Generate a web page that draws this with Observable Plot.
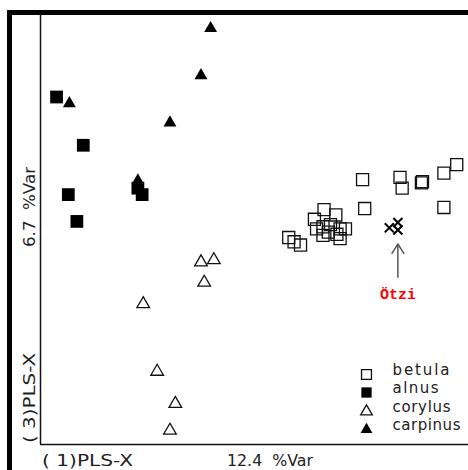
<!DOCTYPE html>
<html><head><meta charset="utf-8">
<script src="https://cdn.jsdelivr.net/npm/d3@7"></script>
<script src="https://cdn.jsdelivr.net/npm/@observablehq/plot@0.6"></script>
<style>body{margin:0;background:#fff}</style>
</head><body><div id="chart"></div>
<script>
// PLS-X component scores (component 1 on x, component 3 on y)
const species = ["betula", "alnus", "corylus", "carpinus"];
const betulaX = [0.32,0.37,0.43,0.56,0.65,0.76,0.58,0.64,0.71,0.80,0.85,0.64,0.77,0.80,0.69,1.01,1.03,1.36,1.38,1.56,1.57,1.77,1.89,1.77];
const betulaY = [-0.07,-0.11,-0.14,0.10,0.19,0.14,0.01,0.03,0.05,0.01,0.01,-0.05,-0.04,-0.08,-0.02,0.47,0.20,0.49,0.39,0.44,0.45,0.53,0.61,0.21];
const alnusX = [-1.85,-1.60,-1.74,-1.66,-1.09,-1.05];
const alnusY = [1.24,0.79,0.33,0.08,0.39,0.33];
const corylusX = [-0.50,-0.38,-0.47,-1.04,-0.91,-0.74,-0.79];
const corylusY = [-0.30,-0.28,-0.49,-0.69,-1.32,-1.62,-1.87];
const carpinusX = [-0.41,-0.50,-1.73,-0.79,-1.09];
const carpinusY = [1.88,1.44,1.18,1.00,0.46];
const otziX = [1.26,1.34,1.34];
const otziY = [0.02,0.07,0.00];
const otziLabel = ["Ötzi"];
const otziLabelPos = [1.34, -0.60];
const otziArrow = [1.34, -0.44, -0.13]; // x, y from, y to
const xLabel = ["( 1)PLS-X", "12.4  %Var"];
const yLabel = ["( 3)PLS-X", "6.7  %Var"];

const rows = (xs, ys) => xs.map((x, i) => ({x, y: ys[i]}));
const betula = rows(betulaX, betulaY);
const alnus = rows(alnusX, alnusY);
const corylus = rows(corylusX, corylusY);
const carpinus = rows(carpinusX, carpinusY);
const otzi = rows(otziX, otziY);

const legendStyle = {
  betula:   {symbol: "square",   r: 5.6, fill: "none", stroke: "#111", strokeWidth: 1.3},
  alnus:    {symbol: "square",   r: 5.8, fill: "#000", stroke: "none"},
  corylus:  {symbol: "triangle", r: 4.3, fill: "none", stroke: "#111", strokeWidth: 1.3},
  carpinus: {symbol: "triangle", r: 4.4, fill: "#000", stroke: "none"}
};
const legendDy = [-70, -52, -33, -15];

const xDomain = [-2, 2], yDomain = [-2, 2];
const svg = Plot.plot({
  width: 468, height: 470,
  marginLeft: 40, marginTop: 15, marginRight: 0, marginBottom: 26,
  x: {domain: xDomain, axis: null},
  y: {domain: yDomain, axis: null},
  style: {background: "white", overflow: "visible", fontFamily: "DejaVu Sans"},
  marks: [
    Plot.ruleX([xDomain[0]], {stroke: "#111", strokeWidth: 1.5}),
    Plot.ruleY([yDomain[0]], {stroke: "#111", strokeWidth: 1.5}),
    Plot.dot(betula, {x: "x", y: "y", symbol: "square", r: 6.8, fill: "none", stroke: "#111", strokeWidth: 1.3}),
    Plot.dot(alnus, {x: "x", y: "y", symbol: "square", r: 7.2, fill: "#000"}),
    Plot.dot(corylus, {x: "x", y: "y", symbol: "triangle", r: 4.7, fill: "none", stroke: "#111", strokeWidth: 1.3}),
    Plot.dot(carpinus, {x: "x", y: "y", symbol: "triangle", r: 4.8, fill: "#000"}),
    Plot.dot(otzi, {x: "x", y: "y", symbol: "times", r: 4.2, stroke: "#000", strokeWidth: 2}),
    Plot.arrow([otziArrow], {x1: d => d[0], x2: d => d[0], y1: d => d[1], y2: d => d[2],
      stroke: "#555", strokeWidth: 1.5, headAngle: 64, headLength: 14}),
    Plot.text(otziLabel, {x: () => otziLabelPos[0], y: () => otziLabelPos[1], text: d => d,
      fill: "red", fontFamily: "Liberation Mono", fontWeight: "bold", fontSize: 15}),
    ...species.map((s, i) => Plot.dot([s], {frameAnchor: "bottom-right", dx: -102, dy: legendDy[i], ...legendStyle[s]})),
    ...species.map((s, i) => Plot.text([s], {frameAnchor: "bottom-right", dx: -76, dy: legendDy[i], text: d => d,
      textAnchor: "start", fontSize: 15, fill: "#222"}))
  ]
});

const g = d3.select(svg);
g.append("rect").attr("x", 7).attr("y", 10).attr("width", 461).attr("height", 5).attr("fill", "#000");
g.append("rect").attr("x", 7).attr("y", 10).attr("width", 5).attr("height", 460).attr("fill", "#000");

const lab = (t, x, y, len, rot) => {
  const el = g.append("text").text(t)
    .attr("font-family", "DejaVu Sans").attr("font-size", 16)
    .attr("text-anchor", "start")
    .attr("fill", "#222").attr("textLength", len).attr("lengthAdjust", "spacingAndGlyphs")
    .attr("style", "white-space:pre");
  if (rot) el.attr("transform", `translate(${x},${y}) rotate(-90)`);
  else el.attr("x", x).attr("y", y);
};
lab(xLabel[0], 42, 466, 91, false);
lab(xLabel[1], 227, 466, 86, false);
lab(yLabel[0], 35, 443, 90, true);
lab(yLabel[1], 35, 247, 80, true);

const legLen = {betula: 57, alnus: 46, corylus: 58, carpinus: 68};
g.selectAll("text").each(function() {
  const t = this.textContent;
  if (legLen[t]) d3.select(this).attr("textLength", legLen[t]).attr("lengthAdjust", "spacing");
});

document.getElementById("chart").appendChild(svg);
</script></body></html>
